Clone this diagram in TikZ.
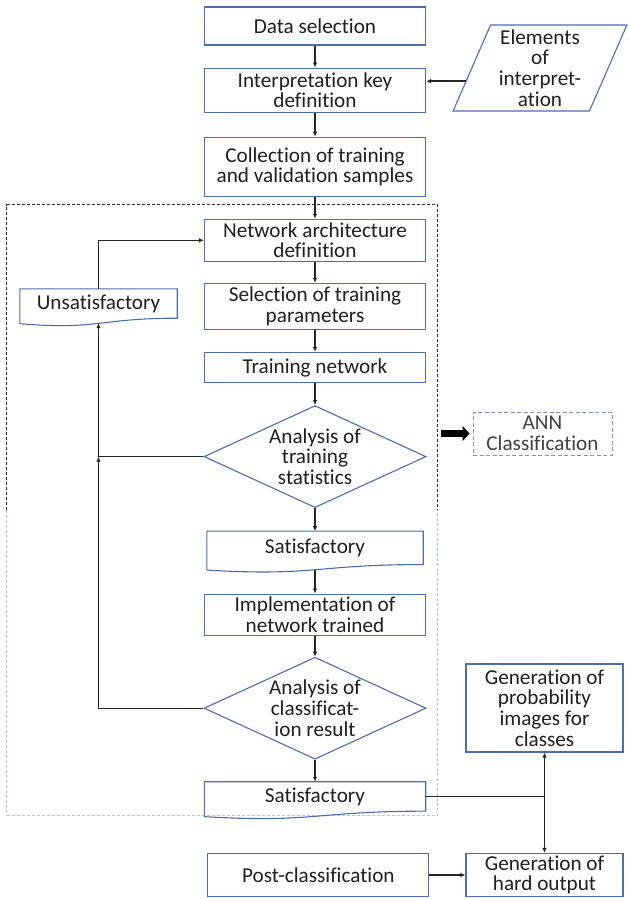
\documentclass[tikz,border=0pt]{standalone}
\usepackage{fontspec}
\setmainfont{Carlito}[Ligatures=NoCommon]
\usepackage{xcolor}
\usetikzlibrary{calc}
\usetikzlibrary{positioning}
\usetikzlibrary{arrows.meta}
\usetikzlibrary{shapes}
\definecolor{shapeblue}{HTML}{4A6EB0}
\definecolor{framegrey}{HTML}{2B2B2B}
\definecolor{frameblue}{HTML}{AFC6E6}
\definecolor{annblue}{HTML}{7D97C4}

\begin{document}
\begin{tikzpicture}[x=1pt,y=1pt,
      font=\fontsize{21.2}{20.7}\selectfont,text=black!88,
      step style/.style={rectangle,draw=shapeblue,line width=1.1pt,align=center,
        inner sep=0pt,minimum width=221pt},
      test style/.style={diamond,draw=shapeblue,line width=1.1pt,align=center,
        inner sep=-4pt,minimum width=222pt,minimum height=102pt,shape aspect=2.2},
      doc style/.style={rectangle,align=center,inner sep=0pt},
      doc line/.style={draw=shapeblue,line width=1.1pt},
      input style/.style={trapezium,trapezium left angle=68,trapezium right angle=112,
        trapezium stretches=true,draw=shapeblue,line width=1.1pt,align=center,
        inner sep=0pt,minimum width=174pt,minimum height=86pt},
      frame style/.style={rectangle,minimum width=430pt,minimum height=610pt},
      frame line/.style={line width=1pt,dash pattern=on 3pt off 2pt},
      group style/.style={rectangle,draw=annblue,line width=1pt,dash pattern=on 4pt off 2.5pt,
        align=center,text=black!75,minimum width=139pt,minimum height=43pt,inner sep=0pt},
      arr style/.style={draw=black!85,line width=1.3pt,-{Latex[length=5pt,width=4.5pt]}},
      big arr style/.style={draw=black,line width=7pt,-{Triangle[length=7pt,width=15pt]}}
      ]
      \useasboundingbox (0,0) rectangle (627,-899);

      % dashed loop around the training part
      \node[frame style] (loop) at (222,-510) {};
      \draw[frame line,draw=framegrey] (loop.west) |- (loop.north) -| (loop.east);
      \draw[frame line,draw=frameblue] (loop.west) |- (loop.south) -| (loop.east);

      % main column
      \node[step style,minimum height=38pt] (data) at (315,-26) {Data selection};
      \node[step style,minimum height=44pt,below=22pt of data] (key) {Interpretation key\\definition};
      \node[step style,minimum height=59pt,below=24pt of key] (coll) {Collection of training\\and validation samples};
      \node[step style,minimum height=42pt,below=22pt of coll] (arch) {Network architecture\\definition};
      \node[step style,minimum height=46pt,below=21pt of arch] (param) {Selection of training\\parameters};
      \node[step style,minimum height=30pt,below=22pt of param] (train) {Training network};
      \node[test style,below=22pt of train] (anatrain) {Analysis of\\training\\statistics};
      \node[doc style,minimum width=216pt,minimum height=33pt,below=23pt of anatrain] (sat1) {Satisfactory};
      \node[step style,minimum height=41pt,below=29pt of sat1] (impl) {Implementation of\\network trained};
      \node[test style,below=21pt of impl] (anaclass) {Analysis of\\classificat-\\ion result};
      \node[doc style,minimum width=221pt,minimum height=29pt,below=22pt of anaclass] (sat2) {Satisfactory};

      % side nodes
      \node[input style] (elem) at (540,-68) {Elements\\of\\interpret-\\ation};
      \node[doc style,minimum width=157pt,minimum height=29pt] (unsat) at (98.5,-303.5) {Unsatisfactory};
      \node[group style] (ann) at (542.5,-433.5) {ANN\\Classification};
      \node[step style,minimum width=157pt,minimum height=88pt] (prob) at (544.5,-708) {Generation of\\probability\\images for\\classes};
      \node[step style,minimum width=157pt,minimum height=43pt] (hard) at (544.5,-875) {Generation of\\hard output};
      \node[step style,minimum height=43pt,left=36pt of hard] (post) {Post-classification};

      % document outlines with wavy bottom
      \foreach \doc in {sat1,sat2,unsat}
      \draw[doc line] ([yshift=-5.5pt]\doc.south west) -- (\doc.north west) -- (\doc.north east)
      -- (\doc.south east) .. controls (\doc.south) and ([yshift=-12pt]\doc.south)
      .. ([yshift=-5.5pt]\doc.south west) -- cycle;

      % connectors
      \draw[arr style] (data) -- (key);
      \draw[arr style] (key) -- (coll);
      \draw[arr style] (coll) -- (arch);
      \draw[arr style] (arch) -- (param);
      \draw[arr style] (param) -- (train);
      \draw[arr style] (train) -- (anatrain);
      \draw[arr style] (anatrain) -- (sat1);
      \draw[arr style] ([yshift=-5pt]sat1.south) -- (impl);
      \draw[arr style] (impl) -- (anaclass);
      \draw[arr style] (anaclass) -- (sat2);
      \draw[arr style] (elem.190) -- (elem.190 -| key.east);
      \draw[arr style] (anatrain.west) -| ([yshift=-5pt]unsat.south);
      \draw[arr style] (anaclass.west) -| (unsat.south |- anatrain.west);
      \draw[arr style] (unsat.north) |- (arch.west);
      \draw[arr style] (sat2.east) -| (prob.south);
      \draw[arr style] (sat2.east -| prob.south) -- (hard.north);
      \draw[arr style] (post) -- (hard);

      \coordinate (annin) at ($(loop.east |- ann.west)+(4,0)$);
      \draw[big arr style] (annin) -- ([xshift=-3pt]ann.west);
    \end{tikzpicture}
\end{document}
